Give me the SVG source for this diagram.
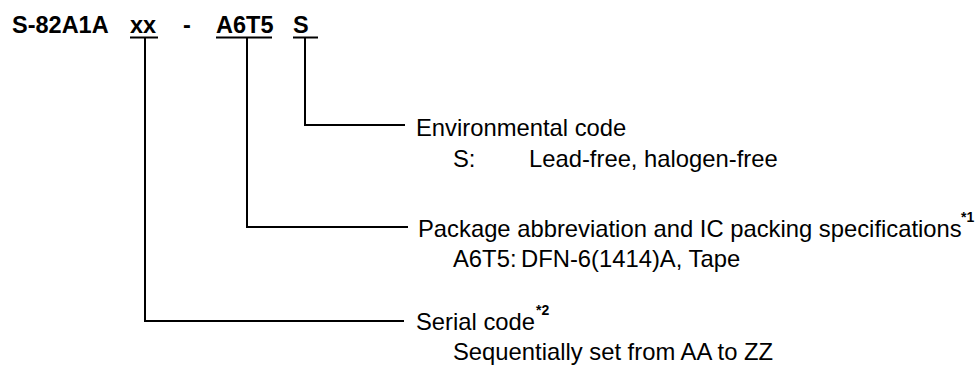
<svg xmlns="http://www.w3.org/2000/svg" width="979" height="367" viewBox="0 0 979 367">
<style>
.t{font-family:"Liberation Sans",Arial,sans-serif;font-size:23.8px;fill:#000}
.b{font-family:"Liberation Sans",Arial,sans-serif;font-size:23.5px;font-weight:bold;fill:#000}
.sup{font-family:"Liberation Sans",Arial,sans-serif;font-size:14px;font-weight:bold;fill:#000}
.ln{stroke:#000;stroke-width:2;fill:none}
</style>
<rect width="979" height="367" fill="#fff"/>
<g id="title">
<text class="b" x="12" y="33">S-82A1A</text>
<text class="b" x="130" y="33">xx</text>
<text class="b" x="183" y="33">-</text>
<text class="b" x="216" y="33">A6T5</text>
<text class="b" x="293" y="33">S</text>
<line class="ln" x1="130" y1="37.5" x2="158" y2="37.5"/>
<line class="ln" x1="216" y1="37.5" x2="272" y2="37.5"/>
<line class="ln" x1="293" y1="37.5" x2="318" y2="37.5"/>
</g>
<g id="connectors">
<polyline class="ln" points="305,37.5 305,125 405,125"/>
<polyline class="ln" points="247,37.5 247,227 408,227"/>
<polyline class="ln" points="145,37.5 145,321 404,321"/>
</g>
<g id="env">
<text class="t" x="416" y="136">Environmental code</text>
<text class="t" x="453" y="167">S:</text>
<text class="t" x="529" y="167">Lead-free, halogen-free</text>
</g>
<g id="pkg">
<text class="t" x="418" y="237">Package abbreviation and IC packing specifications</text>
<text class="sup" x="961" y="222">*1</text>
<text class="t" x="453" y="267">A6T5:</text>
<text class="t" x="521" y="267">DFN-6(1414)A, Tape</text>
</g>
<g id="serial">
<text class="t" x="416" y="330">Serial code</text>
<text class="sup" x="536" y="315">*2</text>
<text class="t" x="453" y="360">Sequentially set from AA to ZZ</text>
</g>
</svg>
